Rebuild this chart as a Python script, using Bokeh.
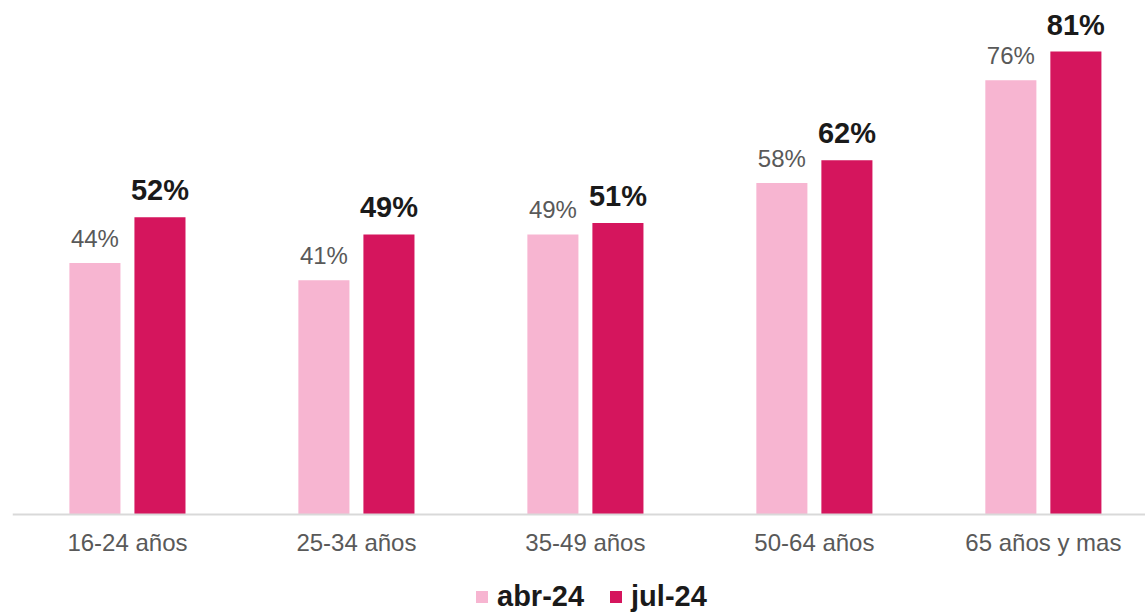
from bokeh.plotting import figure
from bokeh.models import ColumnDataSource, LabelSet, FixedTicker, Range1d, Legend, LegendItem
from bokeh.core.properties import value
from bokeh.transform import dodge
from bokeh.embed import file_html
from bokeh.resources import INLINE

categories = ["16-24 años", "25-34 años", "35-49 años", "50-64 años", "65 años y mas"]
abr_24 = [44, 41, 49, 58, 76]
jul_24 = [52, 49, 51, 62, 81]
series_names = ["abr-24", "jul-24"]

FONT = "Liberation Sans"
C_ABR = "#F7B5D1"
C_JUL = "#D5155D"

xs = list(range(len(categories)))
src = ColumnDataSource(dict(
    x=xs,
    abr=abr_24,
    jul=jul_24,
    abr_lbl=[f"{v}%" for v in abr_24],
    jul_lbl=[f"{v}%" for v in jul_24],
))

p = figure(width=1145, height=613, output_backend="svg", toolbar_location=None,
           min_border_left=12, min_border_right=0, min_border_top=0, min_border_bottom=0,
           x_range=Range1d(-0.502, 4.446), y_range=Range1d(-17.32, 89.94))

off = 0.142
bw = 0.223
r_abr = p.vbar(x=dodge("x", -off), top="abr", bottom=0, width=bw, source=src,
               fill_color=C_ABR, line_color=None)
r_jul = p.vbar(x=dodge("x", off), top="jul", bottom=0, width=bw, source=src,
               fill_color=C_JUL, line_color=None)

p.add_layout(LabelSet(x=dodge("x", -off), y="abr", text="abr_lbl", source=src,
                      text_align="center", text_baseline="alphabetic", y_offset=16,
                      text_font=value(FONT), text_font_size=value("24px"), text_color="#595959"))
p.add_layout(LabelSet(x=dodge("x", off), y="jul", text="jul_lbl", source=src,
                      text_align="center", text_baseline="alphabetic", y_offset=17,
                      text_font=value(FONT), text_font_size=value("29px"), text_font_style="bold",
                      text_color="#1a1a1a"))

p.yaxis.visible = False
p.xgrid.visible = False
p.ygrid.visible = False
p.outline_line_color = None

ax = p.xaxis[0]
ax.fixed_location = 0
ax.ticker = FixedTicker(ticks=xs)
ax.major_label_overrides = {i: c for i, c in enumerate(categories)}
ax.major_tick_line_color = None
ax.minor_tick_line_color = None
ax.major_tick_out = 0
ax.major_tick_in = 0
ax.axis_line_color = "#D9D9D9"
ax.axis_line_width = 2
ax.major_label_standoff = 14
ax.major_label_text_font = FONT
ax.major_label_text_font_size = "24px"
ax.major_label_text_color = "#595959"

legend = Legend(items=[LegendItem(label=series_names[0], renderers=[r_abr]),
                       LegendItem(label=series_names[1], renderers=[r_jul])],
                orientation="horizontal", location=(462, 0),
                glyph_width=15, glyph_height=15, label_standoff=8, spacing=24,
                padding=0, margin=0, border_line_color=None, background_fill_alpha=0,
                label_text_font=FONT, label_text_font_size="29px", label_text_font_style="bold",
                label_text_color="#1a1a1a")
p.add_layout(legend, "center")

open("out.html", "w").write(file_html(p, INLINE))
